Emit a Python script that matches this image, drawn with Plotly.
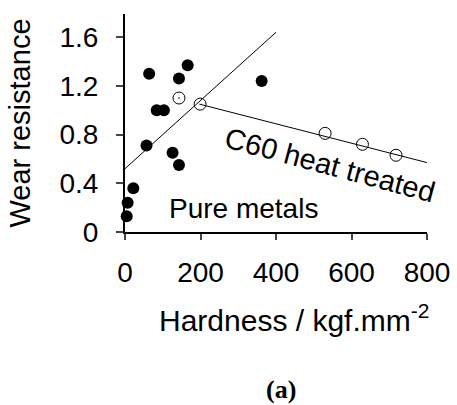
import plotly.graph_objects as go

# Pure metals (filled circles)
metal_hardness = [4.5, 7, 22, 57, 64, 84, 103, 126, 143, 143, 166, 362]
metal_wear = [0.13, 0.24, 0.36, 0.71, 1.30, 1.00, 1.00, 0.65, 0.55, 1.26, 1.37, 1.24]

# C60 heat treated (open circles)
c60_hardness = [143, 199, 530, 629, 718]
c60_wear = [1.10, 1.05, 0.81, 0.72, 0.63]
c60_symbols = ["circle-open-dot", "circle-open", "circle-open", "circle-open", "circle-open"]

# Trend lines
pure_fit_x = [0, 400]
pure_fit_y = [0.52, 1.64]
c60_fit_x = [197, 800]
c60_fit_y = [1.05, 0.57]

x_ticks = [0, 200, 400, 600, 800]
y_ticks = [0, 0.4, 0.8, 1.2, 1.6]
y_tick_labels = ["0", "0.4", "0.8", "1.2", "1.6"]

FONT = "Liberation Sans, Arial, Helvetica, sans-serif"

fig = go.Figure()
fig.add_trace(go.Scatter(x=pure_fit_x, y=pure_fit_y, mode="lines",
                         line=dict(color="black", width=1), cliponaxis=False, showlegend=False))
fig.add_trace(go.Scatter(x=c60_fit_x, y=c60_fit_y, mode="lines",
                         line=dict(color="black", width=1), cliponaxis=False, showlegend=False))
fig.add_trace(go.Scatter(x=metal_hardness, y=metal_wear, mode="markers",
                         marker=dict(color="black", size=12, line=dict(width=0)),
                         cliponaxis=False, showlegend=False))
fig.add_trace(go.Scatter(x=c60_hardness, y=c60_wear, mode="markers",
                         marker=dict(color="black", size=12, symbol=c60_symbols,
                                     line=dict(color="black", width=1)),
                         cliponaxis=False, showlegend=False))

fig.add_annotation(x=543, y=0.55, text="C60 heat treated", showarrow=False, textangle=15,
                   font=dict(family=FONT, size=29, color="black"))
fig.add_annotation(x=315, y=0.19, text="Pure metals", showarrow=False,
                   font=dict(family=FONT, size=28, color="black"))
# x-axis title (placed as annotation; it sits right of the plot centre in the reference)
fig.add_annotation(x=0.106, xref="paper", y=-0.491, yref="paper",
                   text="Hardness / kgf.mm<sup>-2</sup>", showarrow=False,
                   xanchor="left", yanchor="bottom",
                   font=dict(family=FONT, size=30, color="black"))
fig.add_annotation(x=0.517, xref="paper", y=-0.722, yref="paper", text="<b>(a)</b>",
                   showarrow=False, xanchor="center", yanchor="middle",
                   font=dict(family="Liberation Serif, serif", size=26, color="black"))

fig.update_layout(
    width=457, height=405,
    margin=dict(l=125, r=30, t=14, b=173),
    paper_bgcolor="white", plot_bgcolor="white",
    font=dict(family=FONT, size=28, color="black"),
)
fig.update_xaxes(range=[0, 800], tickvals=x_ticks, ticks="outside", ticklen=6, tickwidth=2,
                 showline=True, linecolor="black", linewidth=2, showgrid=False, zeroline=False,
                 automargin=False,
                 ticklabelstandoff=8, tickfont=dict(family=FONT, size=28))
fig.update_yaxes(range=[0, 1.79], tickvals=y_ticks, ticktext=y_tick_labels, ticks="outside",
                 ticklen=7, tickwidth=2, showline=True, linecolor="black", linewidth=2,
                 showgrid=False, zeroline=False, ticklabelstandoff=12, automargin=False,
                 tickfont=dict(family=FONT, size=28),
                 title=dict(text="Wear resistance", standoff=20, font=dict(family=FONT, size=29)))

fig.write_html("out.html")
